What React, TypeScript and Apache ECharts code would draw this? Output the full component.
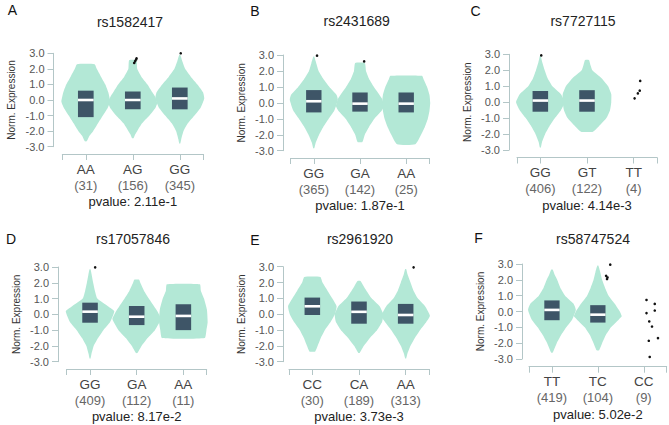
import React, { useEffect, useRef } from "react";
import * as echarts from "echarts";

// ---------- data ----------
const panelLetters = ["A", "B", "C", "D", "E", "F"];
const snpIds = ["rs1582417", "rs2431689", "rs7727115", "rs17057846", "rs2961920", "rs58747524"];
const genotypes = [
  ["AA", "AG", "GG"],
  ["GG", "GA", "AA"],
  ["GG", "GT", "TT"],
  ["GG", "GA", "AA"],
  ["CC", "CA", "AA"],
  ["TT", "TC", "CC"],
];
const sampleCounts = [
  [31, 156, 345],
  [365, 142, 25],
  [406, 122, 4],
  [409, 112, 11],
  [30, 189, 313],
  [419, 104, 9],
];
const pValues = ["2.11e-1", "1.87e-1", "4.14e-3", "8.17e-2", "3.73e-3", "5.02e-2"];

// violin profiles: [expression value, relative density], bottom to top (null = no violin)
const violinsA = [
  [[-2.65, 0.04], [-2.3, 0.15], [-2, 0.3], [-1.5, 0.5], [-1, 0.7], [-0.5, 0.9], [-0.1, 1], [0.5, 0.92], [1, 0.8], [1.5, 0.62], [2, 0.45], [2.3, 0.36]],
  [[-2.45, 0.03], [-2.2, 0.1], [-2, 0.18], [-1.5, 0.38], [-1, 0.68], [-0.5, 0.93], [-0.2, 1], [0.2, 0.92], [0.5, 0.8], [1, 0.6], [1.5, 0.35], [2, 0.18], [2.55, 0.15]],
  [[-2.8, 0.02], [-2.5, 0.06], [-2, 0.15], [-1.5, 0.33], [-1, 0.6], [-0.5, 0.85], [0.1, 1], [0.5, 0.95], [1, 0.72], [1.5, 0.45], [2, 0.22], [2.5, 0.1], [2.9, 0.02]],
];
const violinsB = [
  [[-2.85, 0.02], [-2.5, 0.08], [-2, 0.22], [-1.5, 0.4], [-1, 0.62], [-0.5, 0.85], [0.2, 1], [0.5, 0.95], [1, 0.65], [1.5, 0.4], [2, 0.2], [2.5, 0.1], [2.9, 0.02]],
  [[-2.45, 0.1], [-2, 0.2], [-1.5, 0.38], [-1, 0.6], [-0.5, 0.9], [-0.2, 1], [0.3, 0.9], [1, 0.58], [1.5, 0.38], [2, 0.25], [2.5, 0.2]],
  [[-2.6, 0.38], [-2, 0.62], [-1.5, 0.78], [-1, 0.9], [-0.5, 0.97], [0, 1], [0.5, 0.97], [1, 0.87], [1.5, 0.72], [1.7, 0.66]],
];
const violinsC = [
  [[-2.85, 0.02], [-2.5, 0.07], [-2, 0.2], [-1.5, 0.38], [-1, 0.6], [-0.5, 0.85], [0, 1], [0.5, 0.85], [1, 0.5], [1.5, 0.3], [2, 0.18], [2.5, 0.08], [2.9, 0.02]],
  [[-1.85, 0.25], [-1.5, 0.5], [-1, 0.8], [-0.5, 0.95], [0, 1], [0.5, 1], [1, 0.87], [1.5, 0.6], [2, 0.22], [2.3, 0.15], [2.65, 0.08]],
  null,
];
const violinsD = [
  [[-2.8, 0.02], [-2.5, 0.06], [-2, 0.15], [-1.5, 0.33], [-1, 0.55], [-0.5, 0.82], [0.2, 1], [0.5, 0.75], [1, 0.3], [1.5, 0.2], [2, 0.13], [2.5, 0.07], [2.85, 0.02]],
  [[-2.45, 0.03], [-2, 0.2], [-1.5, 0.45], [-1, 0.75], [-0.3, 1], [0.2, 0.85], [0.5, 0.72], [1, 0.5], [1.5, 0.3], [2, 0.15], [2.2, 0.1]],
  [[-1.5, 0.88], [-1, 0.95], [-0.5, 1], [0.3, 0.97], [1, 0.85], [1.5, 0.72], [1.9, 0.68]],
];
const violinsE = [
  [[-2.35, 0.12], [-2, 0.22], [-1.5, 0.35], [-1, 0.52], [-0.5, 0.75], [0, 0.93], [0.5, 1], [1, 0.82], [1.5, 0.62], [2, 0.42], [2.35, 0.33]],
  [[-2.45, 0.03], [-2, 0.2], [-1.5, 0.45], [-1, 0.75], [-0.5, 0.95], [0, 1], [0.5, 0.85], [1, 0.52], [1.5, 0.3], [1.8, 0.18], [2.1, 0.06]],
  [[-2.8, 0.02], [-2.5, 0.07], [-2, 0.2], [-1.5, 0.38], [-1, 0.6], [-0.5, 0.85], [-0.1, 1], [0.5, 0.8], [1, 0.5], [1.5, 0.32], [2, 0.2], [2.5, 0.08], [2.85, 0.02]],
];
const violinsF = [
  [[-2.6, 0.03], [-2, 0.2], [-1.5, 0.38], [-1, 0.6], [-0.5, 0.85], [0.1, 1], [0.5, 0.9], [1, 0.55], [1.5, 0.35], [2, 0.22], [2.3, 0.12], [2.65, 0.03]],
  [[-2.45, 0.05], [-2, 0.18], [-1.5, 0.33], [-1, 0.55], [-0.5, 0.88], [-0.3, 1], [0, 0.92], [0.5, 0.7], [1, 0.45], [1.5, 0.3], [2, 0.18], [2.5, 0.1], [2.9, 0.02]],
  null,
];
const violins = [violinsA, violinsB, violinsC, violinsD, violinsE, violinsF];

// boxes: [category index, Q1, median, Q3]
const boxesA = [[0, -1.1, 0.0, 0.6], [1, -0.6, 0.0, 0.55], [2, -0.6, 0.1, 0.8]];
const boxesB = [[0, -0.6, 0.1, 0.8], [1, -0.55, -0.05, 0.65], [2, -0.6, -0.05, 0.65]];
const boxesC = [[0, -0.6, 0.1, 0.7], [1, -0.6, 0.1, 0.75]];
const boxesD = [[0, -0.53, 0.17, 0.74], [1, -0.68, -0.15, 0.53], [2, -1.0, -0.1, 0.64]];
const boxesE = [[0, -0.05, 0.5, 1.05], [1, -0.6, 0.15, 0.8], [2, -0.6, -0.05, 0.65]];
const boxesF = [[0, -0.55, 0.1, 0.7], [1, -0.7, -0.2, 0.4]];
const boxes = [boxesA, boxesB, boxesC, boxesD, boxesE, boxesF];

// individual points: [category index, value, jitter (fraction of band)]
const pointsA = [[1, 2.68, 0.08], [1, 2.6, 0.07], [1, 2.5, 0.05], [1, 2.38, 0.03], [2, 3.0, 0.02]];
const pointsB = [[0, 2.96, 0.07], [1, 2.6, 0.09]];
const pointsC = [[0, 2.93, 0.02], [2, 1.33, 0.14], [2, 0.72, 0.13], [2, 0.55, 0.09], [2, 0.24, 0.02]];
const pointsD = [[0, 2.98, 0.11]];
const pointsE = [[2, 2.96, 0.17]];
const pointsF = [
  [1, 2.96, 0.27], [1, 2.25, 0.18], [1, 2.15, 0.21], [1, 2.05, 0.2],
  [2, 0.73, 0.06], [2, 0.48, 0.24], [2, 0.06, 0.24], [2, -0.1, 0.06], [2, -0.63, 0.12],
  [2, -0.95, 0.18], [2, -1.68, 0.31], [2, -1.85, 0.11], [2, -2.87, 0.13],
];
const points = [pointsA, pointsB, pointsC, pointsD, pointsE, pointsF];

// ---------- layout (pixels) ----------
const layout = [
  { yAxisX: 53.5, xL: 62.3, xR: 203.3, yTop: 53.3, yBot: 146.7, axisY: 154, tx: 130, ty: 21.7, lx: 12.5, ly: 10 },
  { yAxisX: 283, xL: 290.7, xR: 429.3, yTop: 55, yBot: 150.7, axisY: 158, tx: 356.7, ty: 20.7, lx: 255, ly: 11 },
  { yAxisX: 509, xL: 517, xR: 657, yTop: 54.3, yBot: 150, axisY: 157.5, tx: 583, ty: 20.7, lx: 475.5, ly: 11 },
  { yAxisX: 58, xL: 66.7, xR: 206.7, yTop: 267, yBot: 361.7, axisY: 369, tx: 133, ty: 239, lx: 11, ly: 239 },
  { yAxisX: 283, xL: 289, xR: 429, yTop: 266.7, yBot: 361.7, axisY: 369, tx: 360, ty: 239, lx: 255, ly: 240 },
  { yAxisX: 522, xL: 529, xR: 666.7, yTop: 264, yBot: 359, axisY: 366.7, tx: 593, ty: 239, lx: 478.5, ly: 237.5 },
];

const FONT = "'Liberation Sans', Arial, Helvetica, sans-serif";
const AXIS_COLOR = "#b3c6c7";
const VIOLIN_COLOR = "#b3e8d6";
const BOX_COLOR = "#3e5567";

export default function App() {
  const ref = useRef<HTMLDivElement>(null);

  useEffect(() => {
    if (!ref.current) return;
    const chart = echarts.init(ref.current, undefined, { renderer: "svg" });

    const grid: any[] = [];
    const xAxis: any[] = [];
    const yAxis: any[] = [];
    const series: any[] = [];
    const graphic: any[] = [];

    layout.forEach((L, i) => {
      grid.push({ left: L.xL, top: L.yTop, width: L.xR - L.xL, height: L.yBot - L.yTop });
      const off = L.axisY - L.yBot;
      xAxis.push({
        type: "category",
        gridIndex: i,
        data: genotypes[i],
        position: "bottom",
        offset: off,
        boundaryGap: true,
        axisLine: { show: true, onZero: false, lineStyle: { color: AXIS_COLOR, width: 1 } },
        axisTick: { show: true, alignWithLabel: true, length: 6, lineStyle: { color: AXIS_COLOR } },
        splitLine: { show: false },
        axisLabel: {
          margin: 7,
          interval: 0,
          formatter: (v: string, idx: number) => `{g|${v}}\n{n|(${sampleCounts[i][idx]})}`,
          rich: {
            g: { fontSize: 13.5, color: "#444", fontFamily: FONT, lineHeight: 16 },
            n: { fontSize: 13, color: "#666", fontFamily: FONT, lineHeight: 16 },
          },
        },
      });
      xAxis.push({
        type: "value",
        gridIndex: i,
        min: 0,
        max: 1,
        interval: 1,
        position: "bottom",
        offset: off,
        axisLine: { show: false, onZero: false },
        axisTick: { show: true, length: 6, lineStyle: { color: AXIS_COLOR } },
        axisLabel: { show: false },
        splitLine: { show: false },
        name: "pvalue: " + pValues[i],
        nameLocation: "middle",
        nameGap: 41,
        nameTextStyle: { fontSize: 13, color: "#222", fontFamily: FONT },
      });
      yAxis.push({
        type: "value",
        gridIndex: i,
        min: -3,
        max: 3,
        interval: 1,
        offset: L.xL - L.yAxisX,
        axisLine: { show: true, onZero: false, lineStyle: { color: AXIS_COLOR, width: 1 } },
        axisTick: { show: true, length: 6, lineStyle: { color: AXIS_COLOR } },
        splitLine: { show: false },
        axisLabel: {
          margin: 9,
          fontSize: 11,
          color: "#555",
          fontFamily: FONT,
          formatter: (v: number) => v.toFixed(1),
        },
        name: "Norm. Expression",
        nameLocation: "middle",
        nameRotate: 90,
        nameGap: 37,
        nameTextStyle: { fontSize: 10, color: "#333", fontFamily: FONT },
      });

      const prof = violins[i];
      series.push({
        type: "custom",
        xAxisIndex: 2 * i,
        yAxisIndex: i,
        data: prof.map((p, k) => (p ? [k, 0] : null)).filter((d) => d !== null),
        renderItem: (params: any, api: any) => {
          const k = api.value(0);
          const p = prof[k];
          if (!p) return null;
          const band = api.size([1, 0])[0];
          const hw = band * 0.52;
          const cx = api.coord([k, 0])[0];
          const right = p.map(([v, d]) => [cx + d * hw, api.coord([k, v])[1]]);
          const left = p.slice().reverse().map(([v, d]) => [cx - d * hw, api.coord([k, v])[1]]);
          return {
            type: "polygon",
            shape: { points: right.concat(left), smooth: 0.15 },
            style: { fill: VIOLIN_COLOR },
          };
        },
        silent: true,
        z: 2,
      });
      series.push({
        type: "custom",
        xAxisIndex: 2 * i,
        yAxisIndex: i,
        data: boxes[i],
        renderItem: (params: any, api: any) => {
          const k = api.value(0);
          const band = api.size([1, 0])[0];
          const w = band / 3;
          const cx = api.coord([k, 0])[0];
          const yq1 = api.coord([k, api.value(1)])[1];
          const ymed = api.coord([k, api.value(2)])[1];
          const yq3 = api.coord([k, api.value(3)])[1];
          return {
            type: "group",
            children: [
              { type: "rect", shape: { x: cx - w / 2, y: yq3, width: w, height: yq1 - yq3 }, style: { fill: BOX_COLOR } },
              { type: "rect", shape: { x: cx - w / 2, y: ymed - 1.3, width: w, height: 2.6 }, style: { fill: "#ffffff" } },
            ],
          };
        },
        silent: true,
        z: 3,
      });
      series.push({
        type: "custom",
        xAxisIndex: 2 * i,
        yAxisIndex: i,
        data: points[i],
        renderItem: (params: any, api: any) => {
          const k = api.value(0);
          const band = api.size([1, 0])[0];
          const c = api.coord([k, api.value(1)]);
          return {
            type: "circle",
            shape: { cx: c[0] + api.value(2) * band, cy: c[1], r: 1.3 },
            style: { fill: "#111" },
          };
        },
        silent: true,
        z: 4,
      });

      graphic.push({
        type: "text",
        x: L.tx,
        y: L.ty,
        style: { text: snpIds[i], fontSize: 14, fontFamily: FONT, fill: "#222", textAlign: "center", textVerticalAlign: "middle" },
      });
      graphic.push({
        type: "text",
        x: L.lx,
        y: L.ly,
        style: { text: panelLetters[i], fontSize: 14, fontFamily: FONT, fill: "#111", textAlign: "center", textVerticalAlign: "middle" },
      });
    });

    chart.setOption({
      animation: false,
      backgroundColor: "#ffffff",
      grid,
      xAxis,
      yAxis,
      series,
      graphic,
    });

    return () => chart.dispose();
  }, []);

  return (
    <div
      ref={ref}
      style={{ position: "fixed", left: 0, top: 0, width: 669, height: 425 }}
    />
  );
}
